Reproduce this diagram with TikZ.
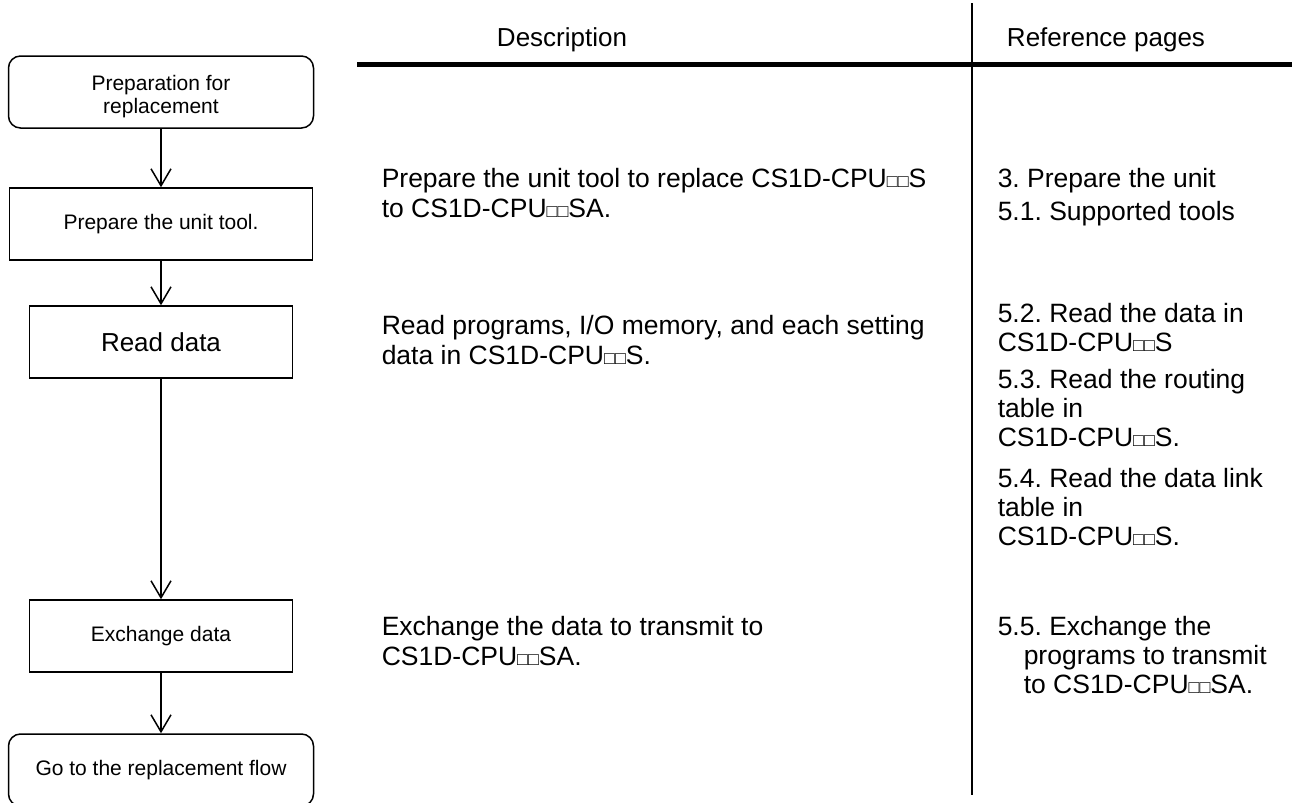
\documentclass[tikz,border=0pt]{standalone}
\usepackage{fontspec}
\setmainfont{Liberation Sans}
\usetikzlibrary{arrows.meta,positioning}
\frenchspacing

\newcommand{\sqs}{{\fontsize{18}{18}\selectfont □□}}

\begin{document}
\begin{tikzpicture}[x=1pt,y=-1pt,line width=1.5pt,node distance=2cm,on grid,
    >={Straight Barb[length=17pt,width=20pt,line width=1.5pt]},
    termbox/.style={draw,rounded corners=12pt,minimum width=305pt,minimum height=72pt,
      inner sep=0pt,align=center,font=\fontsize{21}{23}\selectfont},
    procbox/.style={draw,minimum width=303pt,minimum height=72pt,
      inner sep=0pt,align=center,font=\fontsize{21}{23}\selectfont},
    head/.style={anchor=base,inner sep=0pt,font=\fontsize{26}{30}\selectfont},
    desctext/.style={anchor=base west,inner sep=0pt,align=left,font=\fontsize{26.5}{30}\selectfont},
    reftext/.style={anchor=base west,inner sep=0pt,align=left,font=\fontsize{26.5}{29}\selectfont}]
  \useasboundingbox (0,0) rectangle (1302,803);

  % flow
  \node[termbox,text height=42pt,text depth=0pt] (prep) at (161,92) {Preparation for\\replacement};
  \node[procbox] (tool) [below=132pt of prep] {Prepare the unit tool.};
  \node[procbox,minimum width=263pt,font=\fontsize{26}{30}\selectfont] (read) [below=118pt of tool] {Read data};
  \node[procbox,minimum width=263pt] (exch) [below=294pt of read] {Exchange data};
  \node[termbox] (goflow) [below=134pt of exch] {Go to the replacement flow};
  \path[->]
  (prep) edge (tool)
  (tool) edge (read)
  (read) edge (exch)
  (exch) edge (goflow);

  % table head
  \node[head] (desc) at (562,46) {Description};
  \node[head] (refs) at (1106,46) {Reference pages};
  \coordinate (hl) at (357,64);
  \coordinate (hr) at (1292,64);
  \coordinate (vt) at (972,3);
  \coordinate (vb) at (972,795);
  \draw[line width=5pt] (hl) -- (hr);
  \draw (vt) -- (vb);

  % description (placed at the last line)
  \node[desctext] (dtool) at (381,217) {Prepare the unit tool to replace CS1D-CPU\sqs S\\to CS1D-CPU\sqs SA.};
  \node[desctext] (dread) at (381,364) {Read programs, I/O memory, and each setting\\data in CS1D-CPU\sqs S.};
  \node[desctext] (dexch) at (381,665) {Exchange the data to transmit to\\CS1D-CPU\sqs SA.};

  % reference pages
  \node[reftext] (r3) at (997,187) {3. Prepare the unit};
  \node[reftext] (r51) at (997,220) {5.1. Supported tools};
  \node[reftext] (r52) at (997,351) {5.2. Read the data in\\CS1D-CPU\sqs S};
  \node[reftext] (r53) at (997,446) {5.3. Read the routing\\table in\\CS1D-CPU\sqs S.};
  \node[reftext] (r54) at (997,545) {5.4. Read the data link\\table in\\CS1D-CPU\sqs S.};
  \node[reftext] (r55) at (997,693) {5.5. Exchange the\\\hspace*{26pt}programs to transmit\\\hspace*{26pt}to CS1D-CPU\sqs SA.};
\end{tikzpicture}
\end{document}
